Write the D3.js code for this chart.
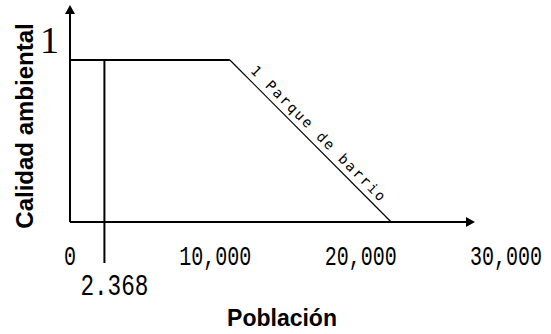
<!DOCTYPE html>
<html>
<head>
<meta charset="utf-8">
<script src="https://cdn.jsdelivr.net/npm/d3@7"></script>
<style>
  html, body { margin: 0; padding: 0; background: #fff; }
  svg { display: block; }
</style>
</head>
<body>
<svg id="chart" width="551" height="334"></svg>
<script>
// ---- data ----
const xTicks = [0, 10000, 20000, 30000];
const xTickLabels = ["0", "10,000", "20,000", "30,000"];
const yTicks = [1];
const yTickLabels = ["1"];
const curveX = [0, 11000, 22100];
const curveY = [1, 1, 0];
const markerX = [2368];
const markerLabels = ["2.368"];
const curveLabel = "1 Parque de barrio";
const xTitle = "Población";
const yTitle = "Calidad ambiental";

// ---- layout ----
const svg = d3.select("#chart");
const x = d3.scaleLinear().domain([0, 30000]).range([70, 506]);
const y = d3.scaleLinear().domain([0, 1]).range([222, 60]);
const ink = "#000";

// axes
const xEnd = 475, yTop = 5;
svg.append("line").attr("x1", x(0)).attr("x2", xEnd - 6).attr("y1", y(0)).attr("y2", y(0))
  .attr("stroke", ink).attr("stroke-width", 2);
svg.append("line").attr("x1", x(0)).attr("x2", x(0)).attr("y1", y(0)).attr("y2", yTop + 6)
  .attr("stroke", ink).attr("stroke-width", 2);
// arrowheads
svg.append("path").attr("d", `M${xEnd},${y(0)} L${xEnd - 9},${y(0) - 5} L${xEnd - 9},${y(0) + 5} Z`).attr("fill", ink);
svg.append("path").attr("d", `M${x(0)},${yTop} L${x(0) - 5},${yTop + 9} L${x(0) + 5},${yTop + 9} Z`).attr("fill", ink);

// x tick labels (narrow, tall digits)
svg.selectAll("text.xt").data(xTicks).enter().append("text")
  .attr("class", "xt")
  .attr("transform", d => `translate(${x(d)},265) scale(1,1.35)`)
  .attr("text-anchor", "middle")
  .attr("font-family", "Liberation Mono, monospace")
  .attr("font-size", 20)
  .attr("fill", ink)
  .text((d, i) => xTickLabels[i]);

// y tick labels
svg.selectAll("text.yt").data(yTicks).enter().append("text")
  .attr("class", "yt")
  .attr("x", x(0) - 11).attr("y", d => y(d) - 7)
  .attr("text-anchor", "end")
  .attr("font-family", "Liberation Serif, serif")
  .attr("font-size", 38)
  .attr("fill", ink)
  .text((d, i) => yTickLabels[i]);

// curve
const line = d3.line().x(d => x(d[0])).y(d => y(d[1]));
const pts = curveX.map((v, i) => [v, curveY[i]]);
svg.append("path").attr("d", line(pts.slice(0, 2))).attr("fill", "none")
  .attr("stroke", ink).attr("stroke-width", 2);
svg.append("path").attr("d", line(pts.slice(1))).attr("fill", "none")
  .attr("stroke", ink).attr("stroke-width", 1.2);

// marker vertical line
svg.selectAll("line.mk").data(markerX).enter().append("line")
  .attr("class", "mk")
  .attr("x1", d => x(d)).attr("x2", d => x(d))
  .attr("y1", y(1)).attr("y2", y(0) + 41)
  .attr("stroke", ink).attr("stroke-width", 2);
svg.selectAll("text.mkl").data(markerX).enter().append("text")
  .attr("class", "mkl")
  .attr("transform", d => `translate(${x(d) + 10},295) scale(1,1.33)`)
  .attr("text-anchor", "middle")
  .attr("font-family", "Liberation Mono, monospace")
  .attr("font-size", 22.7)
  .attr("fill", ink)
  .text((d, i) => markerLabels[i]);

// diagonal label
const p1 = [x(curveX[1]), y(curveY[1])], p2 = [x(curveX[2]), y(curveY[2])];
const ang = Math.atan2(p2[1] - p1[1], p2[0] - p1[0]) * 180 / Math.PI;
svg.append("text")
  .attr("transform", `translate(${(p1[0] + p2[0]) / 2},${(p1[1] + p2[1]) / 2}) rotate(${ang})`)
  .attr("y", -6)
  .attr("text-anchor", "middle")
  .attr("font-family", "DejaVu Sans Mono, monospace")
  .attr("font-size", 14)
  .attr("textLength", 184)
  .attr("lengthAdjust", "spacing")
  .attr("fill", ink)
  .text(curveLabel);

// titles
svg.append("text")
  .attr("x", 282).attr("y", 326)
  .attr("text-anchor", "middle")
  .attr("font-family", "Liberation Sans, Arial, sans-serif")
  .attr("font-weight", "bold")
  .attr("font-size", 23)
  .attr("fill", ink)
  .text(xTitle);
svg.append("text")
  .attr("transform", "translate(33,126) rotate(-90)")
  .attr("text-anchor", "middle")
  .attr("font-family", "Liberation Sans, Arial, sans-serif")
  .attr("font-weight", "bold")
  .attr("font-size", 24)
  .attr("fill", ink)
  .text(yTitle);
</script>
</body>
</html>
